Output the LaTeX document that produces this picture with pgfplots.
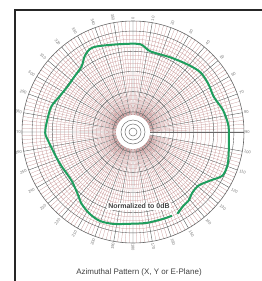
\documentclass[border=0pt]{standalone}
\usepackage{pgfplots}
\pgfplotsset{compat=1.18}
\usepgfplotslibrary{polar}
\usepackage{fontspec}
\setmainfont{Liberation Sans}
\definecolor{patgreen}{rgb}{0.12,0.62,0.37}
\begin{document}
\begin{tikzpicture}[x=1bp,y=1bp]
\useasboundingbox (-133,-149) rectangle (129,132);
\begin{polaraxis}[
  at={(0,0)}, anchor=center,
  scale only axis, width=222bp, height=222bp,
  ymin=0, ymax=110,
  xtick={0,10,...,350},
  ytick={20,40,60,80,100},
  minor x tick num=4,
  minor y tick num=4,
  yticklabels={},
  grid=both,
  major grid style={black!65, line width=0.4pt},
  minor grid style={red!30!gray!65, line width=0.25pt},
  x axis line style={black!60, line width=0.6pt},
  y axis line style={black!60, line width=0.4pt},
  tick style={draw=none},
  xticklabel={\pgfmathtruncatemacro{\lab}{mod(450-\tick,360)}\pgfmathsetmacro{\rot}{ifthenelse(\tick>90 && \tick<270, \tick-180, \tick)}\rotatebox{\rot}{\lab}},
  xticklabel style={font=\fontsize{4}{5}\selectfont, text=black!55, inner sep=1pt},
]
\addplot[color=patgreen, line width=2bp, smooth] coordinates {
(298.5,92.2)(304.4,88.5)(309,87.5)(314.5,84.1)(320.8,83.9)(328.1,90.7)
(334.2,98.8)(341.7,99)(351,96.2)(355.2,95.3)(361,95)(365.5,94.4)
(373.9,91.7)(383.6,87.3)(392.1,88.5)(401.4,89.3)(411.1,86)(423.4,82.7)
(438,81.8)(445.4,87.3)(458.5,88)(472.4,91.9)(477.7,92.6)(482.6,89)
(488.1,82.6)(496.5,79.9)(505.3,79)(514.4,81)(522.8,84.8)(532,85.8)
(540.7,87)(547.5,83.7)(558.2,80)(566.6,78.3)(578.2,77.6)(587.9,82.1)
(594.3,87.4)(602,91.7)(609.4,94)(617.6,93.2)(628.1,91)(638.8,91.1)
(649.2,91.1)(655,91.5)
};
\fill[white] (axis cs:0,0) circle[radius=17bp];
\draw[black!55, line width=0.5pt] (axis cs:0,0) circle[radius=4bp];
\draw[black!55, line width=0.5pt] (axis cs:0,0) circle[radius=8bp];
\draw[black!55, line width=0.5pt] (axis cs:0,0) circle[radius=12bp];
\node[fill=white, inner sep=1.2pt, font=\bfseries\fontsize{7}{8}\selectfont, text=black!75] at (axis cs:274.6,74) {Normalized to 0dB};
\end{polaraxis}
\draw[line width=2.2bp, black!85] (129,122) -- (-118,122) -- (-118,-149);
\node[font=\fontsize{8}{9}\selectfont, text=black!75] at (6,-140) {Azimuthal Pattern (X, Y or E-Plane)};
\end{tikzpicture}
\end{document}
